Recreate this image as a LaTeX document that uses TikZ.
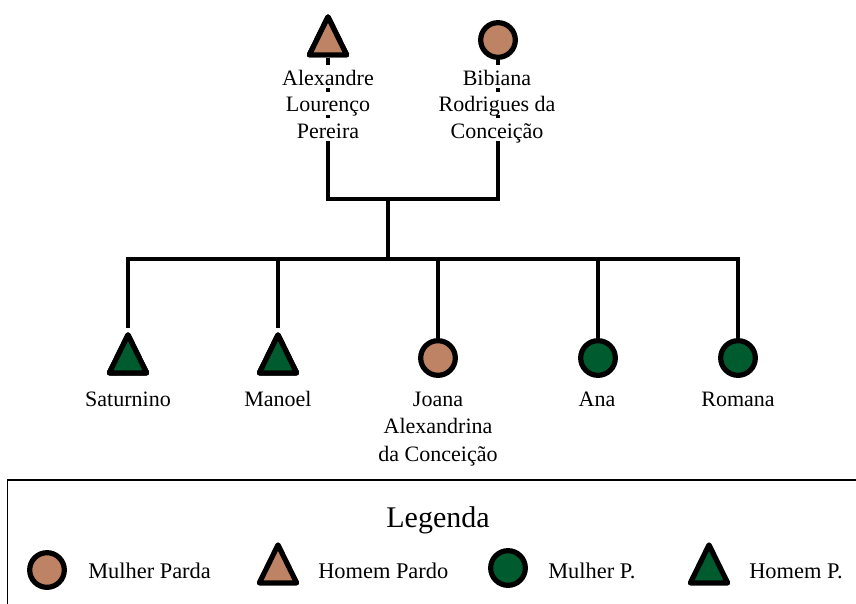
\documentclass[tikz,border=0pt]{standalone}
\usepackage{fontspec}
\setmainfont{Liberation Serif}
\usetikzlibrary{shapes.geometric}
\definecolor{parda}{HTML}{BE8264}
\definecolor{pverde}{HTML}{005C2E}
\tikzset{
  sym/.style={draw=black, line width=3.9pt, inner sep=0pt, line join=round},
  fem/.style={sym, circle, minimum size=26pt},
  masc/.style={sym, isosceles triangle, isosceles triangle stretches, shape border rotate=90, minimum height=28.5pt, minimum width=28pt, anchor=south},
  conn/.style={draw=black, line width=3.5pt},
  nm/.style={font=\fontsize{16.5pt}{20pt}\selectfont, inner sep=0pt, anchor=base},
  nmw/.style={nm, fill=white, text height=15pt, text depth=2.25pt},
  lgt/.style={font=\fontsize{16.8pt}{20pt}\selectfont, inner sep=0pt, anchor=base west},
}
\begin{document}
\begin{tikzpicture}[x=0.75pt, y=-0.75pt]
\useasboundingbox (0,0) rectangle (856,603);
% parents
\node[masc, fill=parda] (alex) at (328,57.5) {};
\node[fem, fill=parda] (bib) at (498,40) {};
% children
\node[masc, fill=pverde] (sat) at (128,375.5) {};
\node[masc, fill=pverde] (man) at (278,375.5) {};
\node[fem, fill=parda] (joa) at (438,358) {};
\node[fem, fill=pverde] (ana) at (598,358) {};
\node[fem, fill=pverde] (rom) at (738,358) {};
% connectors
\coordinate (pbar) at (388,199);
\coordinate (cbar) at (388,259);
\draw[conn] (alex.south) -- (alex.south |- pbar) -- (bib.south |- pbar) -- (bib.south);
\draw[conn] (pbar) -- (cbar);
\draw[conn] (sat.north) -- (sat.north |- cbar) -- (rom.north |- cbar) -- (rom.north);
\draw[conn] (man.north) -- (man.north |- cbar);
\draw[conn] (joa.north) -- (joa.north |- cbar);
\draw[conn] (ana.north) -- (ana.north |- cbar);
% redraw symbols on top of connectors
\node[masc, fill=pverde] (sat2) at (sat.south) {};
\node[masc, fill=pverde] (man2) at (man.south) {};
\node[masc, fill=parda] (alex2) at (alex.south) {};
% names
\node[nmw] (alexa) at (328,85) {Alexandre};
\node[nmw] (alexb) at (328,111.5) {Lourenço};
\node[nmw] (alexc) at (328,138) {Pereira};
\node[nmw] (biba) at (497,85) {Bibiana};
\node[nmw] (bibb) at (497,111.5) {Rodrigues da};
\node[nmw] (bibc) at (497,138) {Conceição};
\node[nm] (satn) at (128,406) {Saturnino};
\node[nm] (mann) at (278,406) {Manoel};
\node[nm] (joaa) at (438,406) {Joana};
\node[nm] (joab) at (438,433.5) {Alexandrina};
\node[nm] (joac) at (438,461) {da Conceição};
\node[nm] (anan) at (597,406) {Ana};
\node[nm] (romn) at (738,406) {Romana};
% legend
\draw[line width=1.3pt] (7.5,480) rectangle (900,650);
\node[font=\fontsize{22.5pt}{26pt}\selectfont, inner sep=0pt, anchor=base] (leg) at (438,527) {Legenda};
\node[fem, fill=parda] (lg1) at (47,570) {};
\node[lgt] (lt1) at (88,578) {Mulher Parda};
\node[masc, fill=parda] (lg2) at (278,585.5) {};
\node[lgt] (lt2) at (318,578) {Homem Pardo};
\node[fem, fill=pverde] (lg3) at (508,568) {};
\node[lgt] (lt3) at (548,578) {Mulher P.};
\node[masc, fill=pverde] (lg4) at (709,585.5) {};
\node[lgt] (lt4) at (749,578) {Homem P.};
\end{tikzpicture}
\end{document}
